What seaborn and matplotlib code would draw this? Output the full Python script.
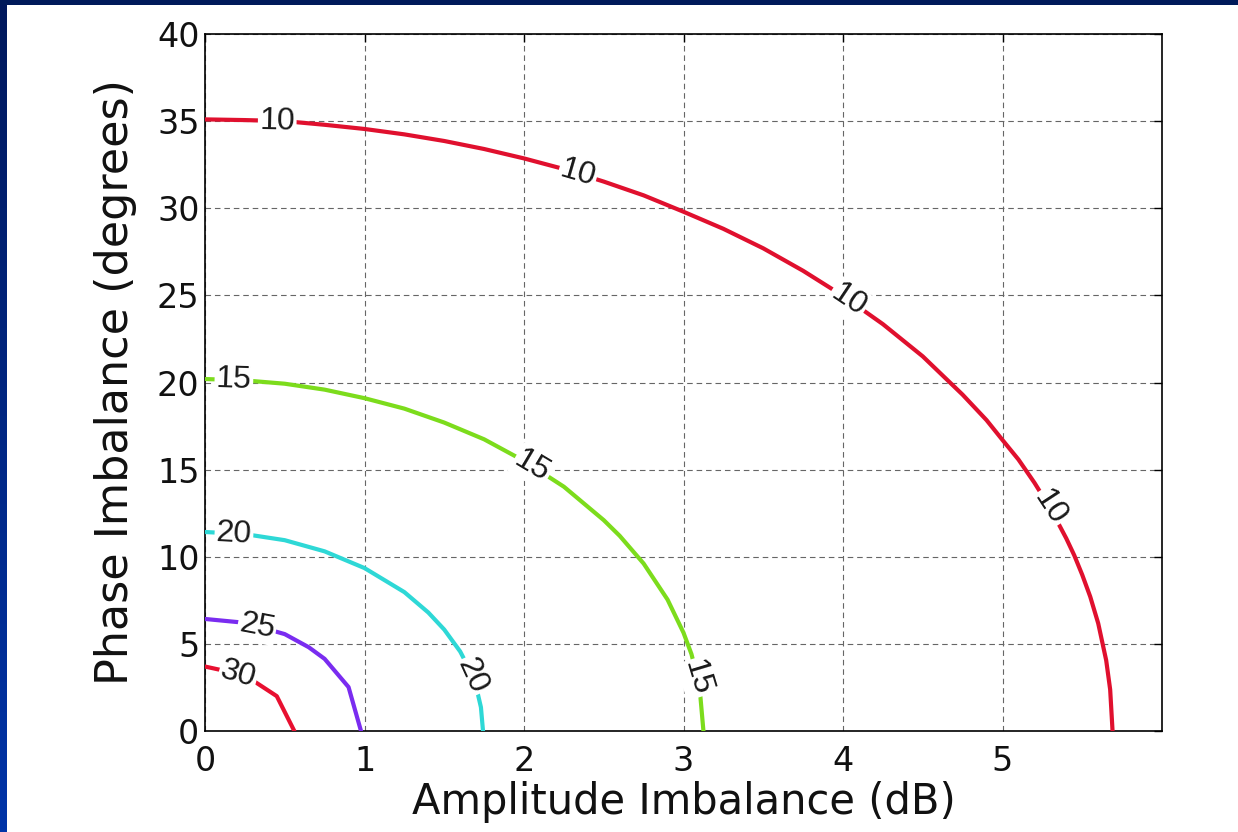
import numpy as np
import pandas as pd
import matplotlib
matplotlib.use("Agg")
import matplotlib.pyplot as plt
from matplotlib.patches import Rectangle
from matplotlib.colors import LinearSegmentedColormap
import seaborn as sns

# Image-rejection contours: amplitude imbalance (dB) vs phase imbalance (deg)
levels = [10, 15, 20, 25, 30]

amp_10 = [0.0, 0.25, 0.5, 0.75, 1.0, 1.25, 1.5, 1.75, 2.0, 2.25, 2.5, 2.75, 3.0, 3.25,
          3.5, 3.75, 4.0, 4.25, 4.5, 4.75, 4.9, 5.0, 5.1, 5.2, 5.3, 5.4, 5.45, 5.5,
          5.55, 5.6, 5.65, 5.675, 5.69]
phase_10 = [35.1, 35.06, 35.0, 34.79, 34.55, 34.24, 33.86, 33.4, 32.86, 32.25, 31.53, 30.74,
            29.8, 28.82, 27.7, 26.41, 24.97, 23.35, 21.5, 19.3, 17.84, 16.7, 15.58, 14.25,
            12.78, 11.05, 10.08, 8.96, 7.71, 6.18, 4.06, 2.38, 0.0]

amp_15 = [0.0, 0.25, 0.5, 0.75, 1.0, 1.25, 1.5, 1.75, 2.0, 2.25, 2.5, 2.6, 2.75, 2.9,
          3.0, 3.05, 3.1, 3.125]
phase_15 = [20.2, 20.12, 19.93, 19.59, 19.1, 18.5, 17.7, 16.74, 15.5, 14.02, 12.1, 11.2,
            9.61, 7.54, 5.64, 4.41, 2.59, 0.0]

amp_20 = [0.0, 0.25, 0.5, 0.75, 1.0, 1.25, 1.4, 1.5, 1.6, 1.65, 1.7, 1.73, 1.743]
phase_20 = [11.42, 11.3, 10.95, 10.31, 9.35, 7.97, 6.8, 5.82, 4.56, 3.68, 2.54, 1.36, 0.0]

amp_25 = [0.0, 0.25, 0.5, 0.65, 0.75, 0.9, 0.978]
phase_25 = [6.43, 6.21, 5.56, 4.81, 4.14, 2.52, 0.0]

amp_30 = [0.0, 0.2, 0.3, 0.45, 0.56]
phase_30 = [3.7, 3.3, 2.9, 2.0, 0.0]

x_ticks = [0, 1, 2, 3, 4, 5]
y_ticks = [0, 5, 10, 15, 20, 25, 30, 35, 40]

curves = {
    10: (amp_10, phase_10),
    15: (amp_15, phase_15),
    20: (amp_20, phase_20),
    25: (amp_25, phase_25),
    30: (amp_30, phase_30),
}

# where each inline label sits, as a fraction of the curve's drawn length
label_fractions = {
    10: [0.06, 0.314, 0.563, 0.805],
    15: [0.043, 0.51, 0.92],
    20: [0.077, 0.85],
    25: [0.25],
    30: [0.29],
}

palette = {10: "#e0102e", 15: "#7cdc1c", 20: "#2ed8d6", 25: "#7a2cf0", 30: "#e81030"}

rows = []
for lvl in levels:
    xs, ys = curves[lvl]
    for i, (xv, yv) in enumerate(zip(xs, ys)):
        rows.append({"level": lvl, "amp": xv, "phase": yv, "order": i})
df = pd.DataFrame(rows)

sns.set_theme(style="white")
plt.rcParams["font.family"] = ["DejaVu Sans"]

W, H = 1238, 832
fig = plt.figure(figsize=(W / 100, H / 100), dpi=100)
fig.patch.set_facecolor("white")

ax = fig.add_axes([205 / W, 1 - 731 / H, (1162 - 205) / W, (731 - 34) / H])
ax.set_facecolor("white")

sns.lineplot(data=df, x="amp", y="phase", hue="level", palette=palette,
             sort=False, estimator=None, legend=False, linewidth=3.0,
             ax=ax, zorder=3)

ax.set_xlim(0, 6)
ax.set_ylim(0, 40)
ax.set_xticks(x_ticks)
ax.set_yticks(y_ticks)
ax.set_xticklabels([str(v) for v in x_ticks], fontsize=24)
ax.set_yticklabels([str(v) for v in y_ticks], fontsize=24)
ax.tick_params(axis="both", direction="in", length=6, width=1.0, color="black",
               top=True, right=True, labelcolor="#111111")
ax.tick_params(axis="x", pad=10)
ax.tick_params(axis="y", pad=4)
ax.grid(True, linestyle=(0, (5, 3.5)), color="#666666", linewidth=0.8)
ax.set_axisbelow(True)
for sp in ax.spines.values():
    sp.set_visible(True)
    sp.set_color("black")
    sp.set_linewidth(1.2)

ax.set_xlabel("Amplitude Imbalance (dB)", fontsize=30, color="#111111", labelpad=2)
ax.set_ylabel("Phase Imbalance (degrees)", fontsize=32, color="#111111", labelpad=14)

# inline contour labels, oriented along the curve
for lvl in levels:
    xs, ys = curves[lvl]
    pts = ax.transData.transform(np.column_stack([xs, ys]))
    seg = np.hypot(np.diff(pts[:, 0]), np.diff(pts[:, 1]))
    cum = np.concatenate([[0], np.cumsum(seg)])
    for f in label_fractions[lvl]:
        s = f * cum[-1]
        k = min(np.searchsorted(cum, s, side="right") - 1, len(seg) - 1)
        t = (s - cum[k]) / seg[k]
        p = pts[k] + t * (pts[k + 1] - pts[k])
        d = pts[min(k + 1, len(pts) - 1)] - pts[max(k - 1, 0)] if 0 < k < len(seg) - 1 else pts[k + 1] - pts[k]
        ang = np.degrees(np.arctan2(d[1], d[0]))
        if ang < -90:
            ang += 180
        elif ang > 90:
            ang -= 180
        xd, yd = ax.transData.inverted().transform(p)
        ax.text(xd, yd, str(lvl), fontsize=23, family=["Liberation Sans"],
                color="#1a1a1a", ha="center", va="center", rotation=ang,
                rotation_mode="anchor", zorder=5,
                bbox=dict(boxstyle="square,pad=0.05", fc="white", ec="none"))

# slide frame: navy band along the top, blue gradient strip on the left
fig.add_artist(Rectangle((0, 1 - 5 / H), 1, 5 / H, transform=fig.transFigure,
                         facecolor="#001a5a", edgecolor="none", zorder=10))
strip = fig.add_axes([0, 0, 7 / W, 1], zorder=9)
grad = np.linspace(0, 1, 256).reshape(-1, 1)
cmap = LinearSegmentedColormap.from_list("frame", ["#00185c", "#0034a8"])
strip.imshow(grad, aspect="auto", cmap=cmap, extent=[0, 1, 0, 1], origin="upper")
strip.set_axis_off()

fig.savefig("out.png", dpi=100, facecolor="white")
